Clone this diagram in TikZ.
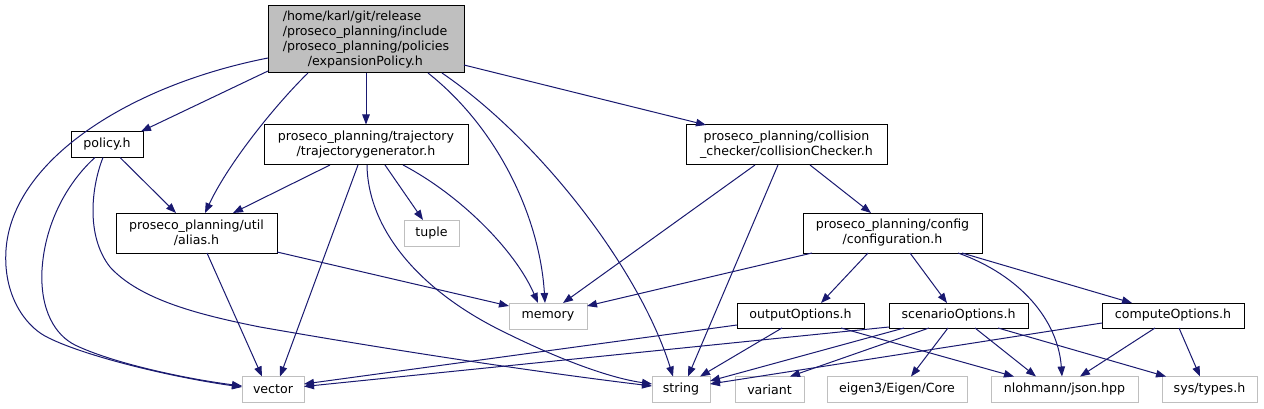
\documentclass[tikz,border=0pt]{standalone}
\usepackage{fontspec}
\setmainfont{DejaVu Sans}
\usetikzlibrary{arrows.meta}
\definecolor{edgec}{HTML}{191970}
\definecolor{grayb}{HTML}{BFBFBF}
\begin{document}
\begin{tikzpicture}[x=1pt,y=-1pt,
  box/.style={draw=black,line width=1pt,rectangle,inner sep=0pt,align=center,
    font=\fontsize{12.6}{15}\selectfont,text=black},
  ext/.style={box,draw=grayb},
  rootbox/.style={box,fill=grayb,align=left},
  dep/.style={draw=edgec,line width=1pt,-{Triangle[length=10pt,width=7.5pt]}}]
\useasboundingbox (0,0) rectangle (1264,409);
\fill[white] (0,0) rectangle (1264,409);

% nodes
\node[rootbox,minimum width=196pt,minimum height=67pt] (root) at (366,39.5)
  {/home/karl/git/release\\/proseco\_planning/include\\/proseco\_planning/policies\\\hspace*{25pt}/expansionPolicy.h};
\node[box,minimum width=72pt,minimum height=26pt] (policy) at (107,144.5) {policy.h};
\node[box,minimum width=204pt,minimum height=40pt] (traj) at (366,145) {proseco\_planning/trajectory\\/trajectorygenerator.h};
\node[box,minimum width=201pt,minimum height=40pt] (coll) at (786.5,145) {proseco\_planning/collision\\\_checker/collisionChecker.h};
\node[box,minimum width=161pt,minimum height=40pt] (alias) at (196.5,233) {proseco\_planning/util\\/alias.h};
\node[ext,minimum width=55pt,minimum height=26pt] (tuple) at (431.5,233) {tuple};
\node[box,minimum width=179pt,minimum height=40pt] (config) at (892.5,233) {proseco\_planning/config\\/configuration.h};
\node[ext,minimum width=78pt,minimum height=26pt] (memory) at (548,316) {memory};
\node[box,minimum width=127pt,minimum height=25pt] (output) at (800.5,315.5) {outputOptions.h};
\node[box,minimum width=139pt,minimum height=25pt] (scen) at (958.5,315.5) {scenarioOptions.h};
\node[box,minimum width=142pt,minimum height=25pt] (comp) at (1173,315.5) {computeOptions.h};
\node[ext,minimum width=62pt,minimum height=26pt] (vector) at (273,389.5) {vector};
\node[ext,minimum width=58pt,minimum height=26pt] (string) at (681,389.5) {string};
\node[ext,minimum width=69pt,minimum height=26pt] (variant) at (769.5,389.5) {variant};
\node[ext,minimum width=140pt,minimum height=26pt] (eigen) at (897,389.5) {eigen3/Eigen/Core};
\node[ext,minimum width=147pt,minimum height=26pt] (nl) at (1064.5,389.5) {nlohmann/json.hpp};
\node[ext,minimum width=95pt,minimum height=26pt] (sys) at (1209.5,389.5) {sys/types.h};

% edges from root
\draw[dep] ([shift={(-98,31.5)}]root.center) -- ([shift={(34,-13)}]policy.center);
\draw[dep] ([shift={(-58,33.5)}]root.center) .. controls (280,100) and (230,160) .. ([shift={(8.5,-20)}]alias.center);
\draw[dep] (root.south) -- (traj.north);
\draw[dep] ([shift={(62,33.5)}]root.center) .. controls (500,130) and (540,220) .. ([shift={(-3,-13)}]memory.center);
\draw[dep] ([shift={(76,33.5)}]root.center) .. controls (540,140) and (640,270) .. ([shift={(-8,-13)}]string.center);
\draw[dep] ([shift={(98,25.5)}]root.center) -- ([shift={(-80.5,-20)}]coll.center);
\draw[dep] ([shift={(-98,18.5)}]root.center) .. controls (130,85) and (12,160) .. (6,250)
  .. controls (3,295) and (25,325) .. (45,336) .. controls (80,355) and (170,377) .. ([shift={(-31,-2.5)}]vector.center);

% policy
\draw[dep] ([shift={(13,13)}]policy.center) -- ([shift={(-20.5,-20)}]alias.center);
\draw[dep] ([shift={(-12,13)}]policy.center) .. controls (70,180) and (45,220) .. (42,270)
  .. controls (40,310) and (55,335) .. (75,345) .. controls (110,362) and (180,378) .. ([shift={(-31,-3.5)}]vector.center);
\draw[dep] ([shift={(-4,13)}]policy.center) .. controls (92,185) and (85,235) .. (110,267)
  .. controls (140,300) and (200,315) .. (260,327) .. controls (420,355) and (560,375) .. ([shift={(-29,-3.5)}]string.center);

% trajectory
\draw[dep] ([shift={(-36,20)}]traj.center) -- ([shift={(36.5,-20)}]alias.center);
\draw[dep] ([shift={(-8,20)}]traj.center) -- ([shift={(7,-13)}]vector.center);
\draw[dep] ([shift={(1,20)}]traj.center) .. controls (368,230) and (420,290) .. (500,330)
  .. controls (560,360) and (610,378) .. ([shift={(-29,-5.5)}]string.center);
\draw[dep] ([shift={(19,20)}]traj.center) -- ([shift={(-8.5,-13)}]tuple.center);
\draw[dep] ([shift={(37,20)}]traj.center) .. controls (460,195) and (515,250) .. ([shift={(-10,-13)}]memory.center);

% alias
\draw[dep] ([shift={(10.5,20)}]alias.center) -- ([shift={(-11,-13)}]vector.center);
\draw[dep] ([shift={(80.5,19)}]alias.center) -- ([shift={(-39,-10)}]memory.center);

% collision checker
\draw[dep] ([shift={(-31.5,20)}]coll.center) -- ([shift={(15,-13)}]memory.center);
\draw[dep] ([shift={(-8.5,20)}]coll.center) -- ([shift={(7,-13)}]string.center);
\draw[dep] ([shift={(23.5,20)}]coll.center) -- ([shift={(-21.5,-20)}]config.center);

% configuration
\draw[dep] ([shift={(-80.5,20)}]config.center) -- ([shift={(39,-10)}]memory.center);
\draw[dep] ([shift={(-24.5,20)}]config.center) -- ([shift={(20.5,-12.5)}]output.center);
\draw[dep] ([shift={(17.5,20)}]config.center) -- ([shift={(-11.5,-12.5)}]scen.center);
\draw[dep] ([shift={(65.5,20)}]config.center) .. controls (1020,275) and (1058,320) .. ([shift={(-2.5,-13)}]nl.center);
\draw[dep] ([shift={(69.5,20)}]config.center) -- ([shift={(-41,-12.5)}]comp.center);

% outputOptions
\draw[dep] ([shift={(-63.5,9.5)}]output.center) -- ([shift={(31,-5.5)}]vector.center);
\draw[dep] ([shift={(-18.5,12.5)}]output.center) -- ([shift={(19,-13)}]string.center);
\draw[dep] ([shift={(40.5,12.5)}]output.center) -- ([shift={(-50.5,-13)}]nl.center);

% scenarioOptions
\draw[dep] ([shift={(-69.5,11.5)}]scen.center) -- ([shift={(31,-3)}]vector.center);
\draw[dep] ([shift={(-54.5,12.5)}]scen.center) -- ([shift={(29,-8.5)}]string.center);
\draw[dep] ([shift={(-29.5,12.5)}]scen.center) -- ([shift={(20.5,-13)}]variant.center);
\draw[dep] ([shift={(-10.5,12.5)}]scen.center) -- ([shift={(14,-13)}]eigen.center);
\draw[dep] ([shift={(16.5,12.5)}]scen.center) -- ([shift={(-28.5,-13)}]nl.center);
\draw[dep] ([shift={(39.5,12.5)}]scen.center) -- ([shift={(-43.5,-13)}]sys.center);

% computeOptions
\draw[dep] ([shift={(-71,7.5)}]comp.center) -- ([shift={(29,-5.5)}]string.center);
\draw[dep] ([shift={(-18,12.5)}]comp.center) -- ([shift={(15.5,-13)}]nl.center);
\draw[dep] ([shift={(6,12.5)}]comp.center) -- ([shift={(-9.5,-13)}]sys.center);
\end{tikzpicture}
\end{document}
